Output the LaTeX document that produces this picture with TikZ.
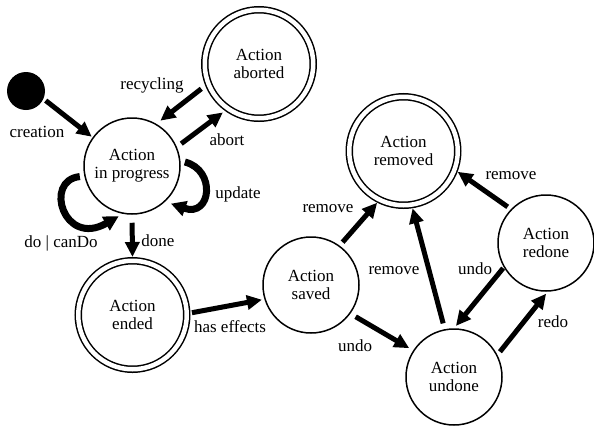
\documentclass[tikz,border=0pt]{standalone}
\usepackage{fontspec}
\setmainfont{Liberation Serif}
\usetikzlibrary{arrows.meta}
\begin{document}
\begin{tikzpicture}[x=1pt,y=-1pt,
  every node/.style={font=\fontsize{17}{18}\selectfont},
  state/.style={circle,draw,line width=1.5pt,minimum size=96pt,inner sep=0pt,align=center,outer sep=0.75pt},
  final/.style={circle,draw,double,line width=1.5pt,double distance=4.5pt,minimum size=108.5pt,inner sep=0pt,align=center,outer sep=3.75pt},
  initial/.style={circle,fill=black,minimum size=38pt,inner sep=0pt,outer sep=0pt},
  arr/.style={line width=5pt,-{Triangle[length=15pt,width=14pt]}},
  looparr/.style={line width=7pt,-{Triangle[length=15pt,width=15pt]}},
  lbl/.style={inner sep=0pt}]
\useasboundingbox (0,0) rectangle (594,429);

% states
\node[initial] (init) at (26,91) {};
\node[state] (prog) at (132,166) {Action\\in progress};
\node[final] (aborted) at (259,64) {Action\\aborted};
\node[final] (ended) at (132.5,315) {Action\\ended};
\node[state] (saved) at (311,285) {Action\\saved};
\node[final] (removed) at (403.5,151) {Action\\removed};
\node[state] (redone) at (546,243) {Action\\redone};
\node[state] (undone) at (454,377) {Action\\undone};

% transitions
\draw[arr,shorten <=3pt,shorten >=1pt] (init.-24) -- (prog.144);
\draw[arr,shorten <=5pt,shorten >=5pt] (aborted.202) -- (prog.60);
\draw[arr,shorten <=5.5pt,shorten >=2.5pt] (prog.23) -- (aborted.-126);
\draw[arr,shorten <=8pt] (prog.-90) -- (ended.90);
\draw[arr,shorten <=1.5pt,shorten >=2.5pt] (ended.2) -- (saved.197);
\draw[arr,shorten <=4.5pt] (saved.54) -- (removed.-117);
\draw[arr,shorten <=4pt] (redone.136) -- (removed.-21);
\draw[arr,shorten <=6pt] (undone.101) -- (removed.-81.5);
\draw[arr,shorten <=1pt,shorten >=3pt] (redone.210) -- (undone.90);
\draw[arr,shorten <=4pt,shorten >=2.5pt] (undone.27) -- (redone.-88);
\draw[arr,shorten <=6pt,shorten >=4.5pt] (saved.-36) -- (undone.147);

% self loops
\draw[looparr,shorten <=4.5pt,shorten >=6pt] (prog.6.5) .. controls +(36,9) and +(46,16) .. (prog.-47);
\draw[looparr,shorten <=4.5pt,shorten >=4.5pt] (prog.192) .. controls +(-41,4) and +(-59,34) .. (prog.-101);

% labels
\node[lbl] (lcreation) at (37,132) {creation};
\node[lbl] (lrecycling) at (152,85) {recycling};
\node[lbl] (labort) at (227,140) {abort};
\node[lbl] (lupdate) at (238,194) {update};
\node[lbl] (ldo) at (61,243) {do | canDo};
\node[lbl] (ldone) at (158,241) {done};
\node[lbl] (leffects) at (230,327) {has effects};
\node[lbl] (lremove1) at (328,209) {remove};
\node[lbl] (lremove2) at (511,176) {remove};
\node[lbl] (lremove3) at (394,271) {remove};
\node[lbl] (lundo1) at (475,269) {undo};
\node[lbl] (lredo) at (553,322) {redo};
\node[lbl] (lundo2) at (355,346) {undo};
\end{tikzpicture}
\end{document}
